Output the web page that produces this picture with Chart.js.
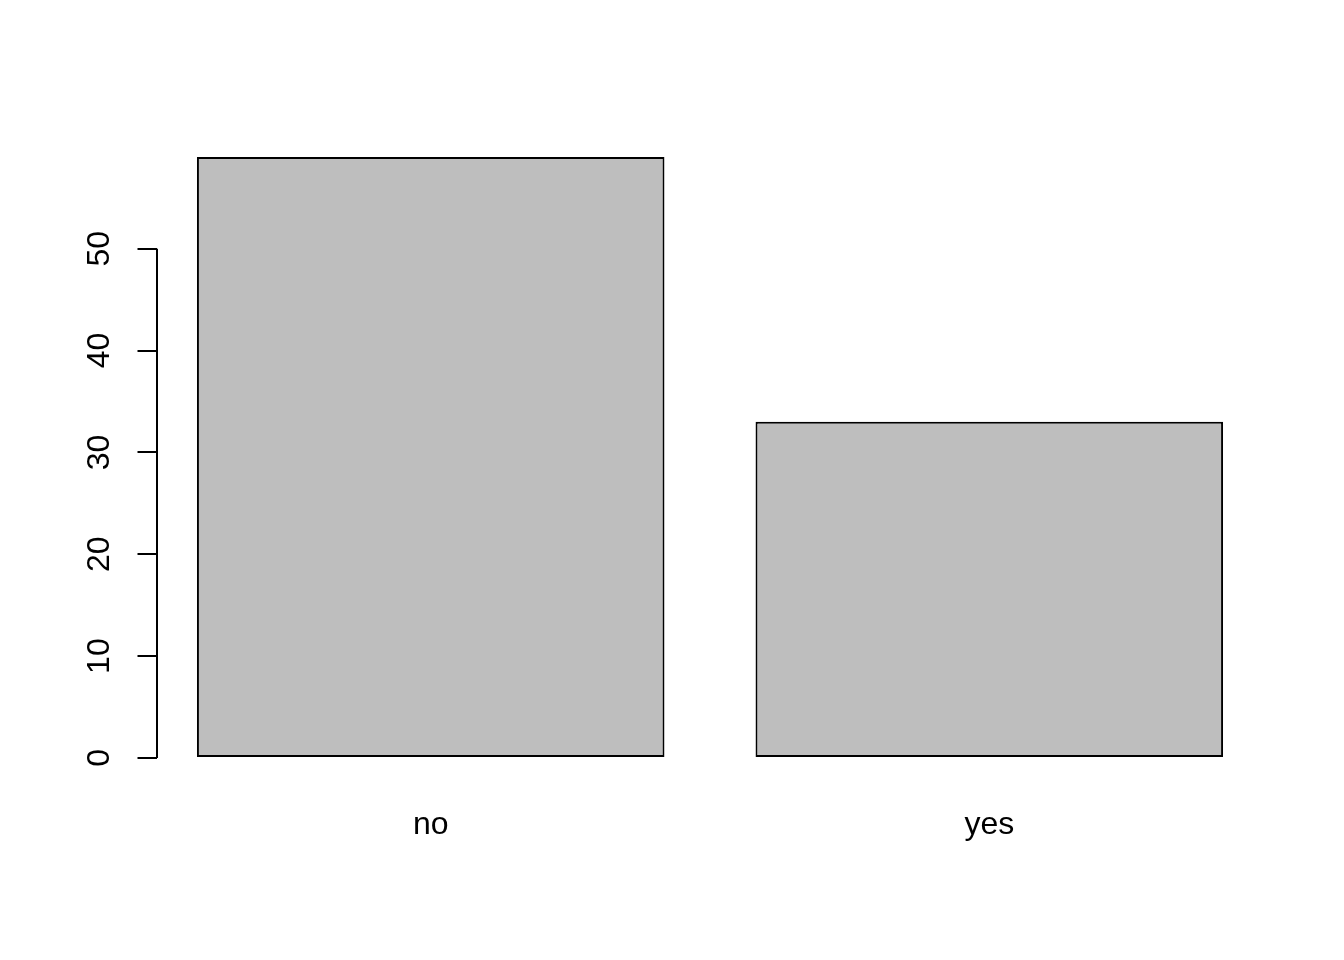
<!DOCTYPE html>
<html>
<head>
<meta charset="utf-8">
<script src="https://cdn.jsdelivr.net/npm/chart.js@4.4.1/dist/chart.umd.min.js"></script>
<style>
  html, body { margin: 0; padding: 0; background: #ffffff; }
  #wrap { width: 1344px; height: 960px; }
</style>
</head>
<body>
<div id="wrap"><canvas id="c" width="1344" height="960"></canvas></div>
<script>
// ---- data ----
const categories = ['no', 'yes'];
const counts = [59, 33];
const yTicks = [0, 10, 20, 30, 40, 50];

// R barplot geometry: width 1, space 0.2 -> bar centres
const barWidth = 1, barSpace = 0.2;
const centres = categories.map((c, i) => barSpace + barWidth / 2 + i * (barWidth + barSpace));
const xLo = barSpace, xHi = categories.length * (barWidth + barSpace);
const xExt = (xHi - xLo) * 0.04;
const yMaxVal = Math.max(...counts);
const yExt = yMaxVal * 0.04;

const FONT = { family: '"Liberation Sans", Arial, Helvetica, sans-serif', size: 32 };

const yAxisLine = {
  id: 'yAxisLine',
  afterDraw(chart) {
    const y = chart.scales.y;
    const ctx = chart.ctx;
    const x = chart.chartArea.left;
    ctx.save();
    ctx.strokeStyle = '#000';
    ctx.lineWidth = 2;
    ctx.beginPath();
    ctx.moveTo(x, y.getPixelForValue(yTicks[0]));
    ctx.lineTo(x, y.getPixelForValue(yTicks[yTicks.length - 1]));
    ctx.stroke();
    ctx.restore();
  }
};

new Chart(document.getElementById('c'), {
  type: 'bar',
  data: {
    datasets: [{
      data: categories.map((c, i) => ({ x: centres[i], y: counts[i] })),
      backgroundColor: '#BEBEBE',
      borderColor: '#000000',
      borderWidth: 2,
      borderSkipped: false,
      barPercentage: 0.837,
      categoryPercentage: 1.0
    }]
  },
  options: {
    responsive: false,
    devicePixelRatio: 1,
    animation: false,
    layout: { padding: { top: 133, right: 81, bottom: 0, left: 0 } },
    plugins: { legend: { display: false }, tooltip: { enabled: false } },
    scales: {
      x: {
        type: 'linear',
        offset: false,
        min: xLo - xExt,
        max: xHi + xExt,
        grid: { display: false, drawTicks: false, offset: false },
        border: { display: false },
        afterBuildTicks: s => { s.ticks = centres.map(v => ({ value: v })); },
        afterFit: s => { s.height = 178; },
        ticks: {
          autoSkip: false,
          maxRotation: 0,
          padding: 24,
          color: '#000',
          font: FONT,
          callback: (v, i) => categories[i]
        }
      },
      y: {
        type: 'linear',
        min: -yExt,
        max: yMaxVal + yExt,
        grid: { display: true, drawOnChartArea: false, drawTicks: true, tickLength: 19.5, color: '#000', lineWidth: 2 },
        border: { display: false },
        afterBuildTicks: s => { s.ticks = yTicks.map(v => ({ value: v })); },
        afterFit: s => { s.width = 157; },
        ticks: {
          minRotation: 90,
          maxRotation: 90,
          crossAlign: 'center',
          padding: 20,
          color: '#000',
          font: FONT,
          callback: v => String(v)
        }
      }
    }
  },
  plugins: [yAxisLine]
});
</script>
</body>
</html>
